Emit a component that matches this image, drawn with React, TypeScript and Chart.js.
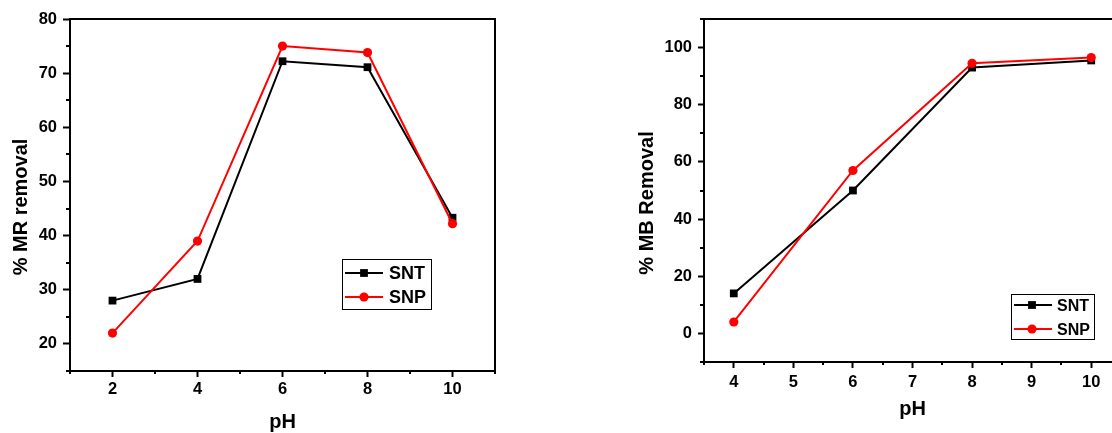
import React, { useEffect, useRef } from 'react';
import { Chart, registerables } from 'chart.js';

Chart.register(...registerables);

// ---- data ----
const leftPH = [2, 4, 6, 8, 10];
const leftSNT = [28, 32, 72.2, 71.1, 43.3];
const leftSNP = [22, 39, 75, 73.8, 42.2];

const rightPH = [4, 6, 8, 10];
const rightSNT = [14, 50, 93, 95.5];
const rightSNP = [4, 57, 94.5, 96.5];

const seriesNames = ['SNT', 'SNP'];
const leftYTitle = '% MR removal';
const rightYTitle = '% MB Removal';
const xTitleText = 'pH';

const FONT = '"Liberation Sans", Arial, sans-serif';

const decoPlugin = {
  id: 'deco',
  afterDraw(chart: any, _args: any, opts: any) {
    const ctx = chart.ctx as CanvasRenderingContext2D;
    const ca = chart.chartArea;
    ctx.save();
    // top / right frame
    ctx.strokeStyle = '#000';
    ctx.lineWidth = 2;
    ctx.beginPath();
    ctx.moveTo(ca.left - 1, ca.top);
    ctx.lineTo(ca.right, ca.top);
    ctx.lineTo(ca.right, ca.bottom + 1);
    ctx.stroke();

    // minor ticks
    const xs = chart.scales.x;
    const ys = chart.scales.y;
    ctx.lineWidth = 2;
    xs.ticks.forEach((t: any) => {
      if (!opts.isMajorX(t.value)) {
        const px = Math.round(xs.getPixelForValue(t.value));
        ctx.beginPath();
        ctx.moveTo(px, ca.bottom);
        ctx.lineTo(px, ca.bottom + opts.minorX);
        ctx.stroke();
      }
    });
    ys.ticks.forEach((t: any) => {
      if (!opts.isMajorY(t.value)) {
        const py = Math.round(ys.getPixelForValue(t.value));
        ctx.beginPath();
        ctx.moveTo(ca.left, py);
        ctx.lineTo(ca.left - opts.minorY, py);
        ctx.stroke();
      }
    });

    // axis titles
    ctx.fillStyle = '#000';
    ctx.font = `bold ${opts.titleSize}px ${FONT}`;
    ctx.textAlign = 'center';
    ctx.textBaseline = 'alphabetic';
    ctx.fillText(opts.xTitle, (ca.left + ca.right) / 2, opts.xTitleBaseline);
    ctx.save();
    ctx.translate(opts.yTitleBaseline, opts.yTitleCenter);
    ctx.rotate(-Math.PI / 2);
    ctx.fillText(opts.yTitle, 0, 0);
    ctx.restore();

    // legend
    const L = opts.legend;
    ctx.strokeStyle = '#000';
    ctx.lineWidth = 1;
    ctx.strokeRect(L.x + 0.5, L.y + 0.5, L.w, L.h);
    ctx.font = `bold ${L.fontSize}px ${FONT}`;
    ctx.textAlign = 'left';
    ctx.textBaseline = 'alphabetic';
    chart.data.datasets.forEach((ds: any, i: number) => {
      const ry = L.rows[i];
      ctx.strokeStyle = ds.borderColor;
      ctx.lineWidth = 2;
      ctx.beginPath();
      ctx.moveTo(L.lx1, ry);
      ctx.lineTo(L.lx2, ry);
      ctx.stroke();
      ctx.fillStyle = ds.borderColor;
      if (ds.pointStyle === 'rect') {
        const s = ds.pointRadius * Math.SQRT1_2;
        ctx.fillRect(L.mx - s, ry - s, 2 * s, 2 * s);
      } else {
        ctx.beginPath();
        ctx.arc(L.mx, ry, ds.pointRadius, 0, Math.PI * 2);
        ctx.fill();
      }
      ctx.fillStyle = '#000';
      ctx.fillText(ds.label, L.tx, ry + 0.716 * L.fontSize / 2);
    });
    ctx.restore();
  },
};

function buildDatasets(xs: number[], snt: number[], snp: number[]) {
  return [
    {
      label: seriesNames[0],
      data: xs.map((x, i) => ({ x, y: snt[i] })),
      borderColor: '#000000',
      backgroundColor: '#000000',
      borderWidth: 2,
      pointStyle: 'rect',
      pointRadius: 5.5,
      pointBorderWidth: 0,
      order: 1,
    },
    {
      label: seriesNames[1],
      data: xs.map((x, i) => ({ x, y: snp[i] })),
      borderColor: '#ff0000',
      backgroundColor: '#ff0000',
      borderWidth: 2,
      pointStyle: 'circle',
      pointRadius: 4.6,
      pointBorderWidth: 0,
      order: 0,
    },
  ];
}

function axis(min: number, max: number, step: number, isMajor: (v: number) => boolean, tickLen: number, pad: number, fit: (s: any) => void, fontSize: number) {
  return {
    type: 'linear',
    min,
    max,
    afterFit: fit,
    border: { display: true, color: '#000', width: 2 },
    grid: {
      display: true,
      drawOnChartArea: false,
      drawTicks: true,
      tickLength: tickLen,
      tickWidth: 2,
      tickColor: (c: any) => (c.tick && isMajor(c.tick.value) ? '#000' : 'rgba(0,0,0,0)'),
    },
    ticks: {
      stepSize: step,
      autoSkip: false,
      maxRotation: 0,
      padding: pad,
      color: '#000',
      font: { family: FONT, weight: 'bold', size: fontSize },
      callback: (v: any) => (isMajor(Number(v)) ? String(v) : ''),
    },
  };
}

function ChartCanvas(props: { config: any; width: number; height: number; left: number }) {
  const ref = useRef<HTMLCanvasElement | null>(null);
  useEffect(() => {
    if (!ref.current) return;
    const chart = new Chart(ref.current, props.config);
    return () => chart.destroy();
  }, []);
  return (
    <canvas
      ref={ref}
      width={props.width}
      height={props.height}
      style={{ position: 'absolute', left: props.left, top: 0, width: props.width, height: props.height }}
    />
  );
}

const leftMajorX = (v: number) => Math.abs(v % 2) < 1e-9;
const leftMajorY = (v: number) => Math.abs(v % 10) < 1e-9;
const rightMajorX = (v: number) => Math.abs(v - Math.round(v)) < 1e-9;
const rightMajorY = (v: number) => Math.abs(v % 20) < 1e-9 && v >= 0 && v <= 100;

const leftConfig = {
  type: 'line',
  data: { datasets: buildDatasets(leftPH, leftSNT, leftSNP) },
  options: {
    responsive: false,
    animation: false,
    devicePixelRatio: 1,
    layout: { padding: { left: 0, top: 19, right: 65, bottom: 0 } },
    scales: {
      x: axis(1, 11, 1, leftMajorX, 6, 3, (s: any) => { s.height = 62; }, 16.5),
      y: axis(15, 80, 5, leftMajorY, 7, 6, (s: any) => { s.width = 70; }, 16.5),
    },
    plugins: {
      legend: { display: false },
      tooltip: { enabled: false },
      deco: {
        isMajorX: leftMajorX,
        isMajorY: leftMajorY,
        minorX: 3,
        minorY: 4,
        titleSize: 20,
        xTitle: xTitleText,
        xTitleBaseline: 428,
        yTitle: leftYTitle,
        yTitleBaseline: 27,
        yTitleCenter: 207,
        legend: { x: 342, y: 259, w: 89, h: 50, rows: [273, 297], lx1: 345, lx2: 383, mx: 364, tx: 389, fontSize: 18 },
      },
    },
  },
  plugins: [decoPlugin],
};

const rightConfig = {
  type: 'line',
  data: { datasets: buildDatasets(rightPH, rightSNT, rightSNP) },
  options: {
    responsive: false,
    animation: false,
    devicePixelRatio: 1,
    layout: { padding: { left: 0, top: 19, right: 39, bottom: 0 } },
    scales: {
      x: axis(3.5, 10.5, 0.5, rightMajorX, 6, 5, (s: any) => { s.height = 71; }, 16.5),
      y: axis(-10, 110, 10, rightMajorY, 6, 6, (s: any) => { s.width = 104; }, 16.5),
    },
    plugins: {
      legend: { display: false },
      tooltip: { enabled: false },
      deco: {
        isMajorX: rightMajorX,
        isMajorY: rightMajorY,
        minorX: 3,
        minorY: 4,
        titleSize: 20,
        xTitle: xTitleText,
        xTitleBaseline: 415,
        yTitle: rightYTitle,
        yTitleBaseline: 53,
        yTitleCenter: 203,
        legend: { x: 411, y: 294, w: 83, h: 45, rows: [305, 329], lx1: 414, lx2: 452, mx: 432, tx: 457, fontSize: 16 },
      },
    },
  },
  plugins: [decoPlugin],
};

export default function App() {
  return (
    <div
      style={{
        position: 'fixed',
        left: 0,
        top: 0,
        width: 1112,
        height: 433,
        overflow: 'hidden',
        background: '#ffffff',
      }}
    >
      <ChartCanvas config={leftConfig} width={560} height={433} left={0} />
      <ChartCanvas config={rightConfig} width={560} height={433} left={600} />
    </div>
  );
}
